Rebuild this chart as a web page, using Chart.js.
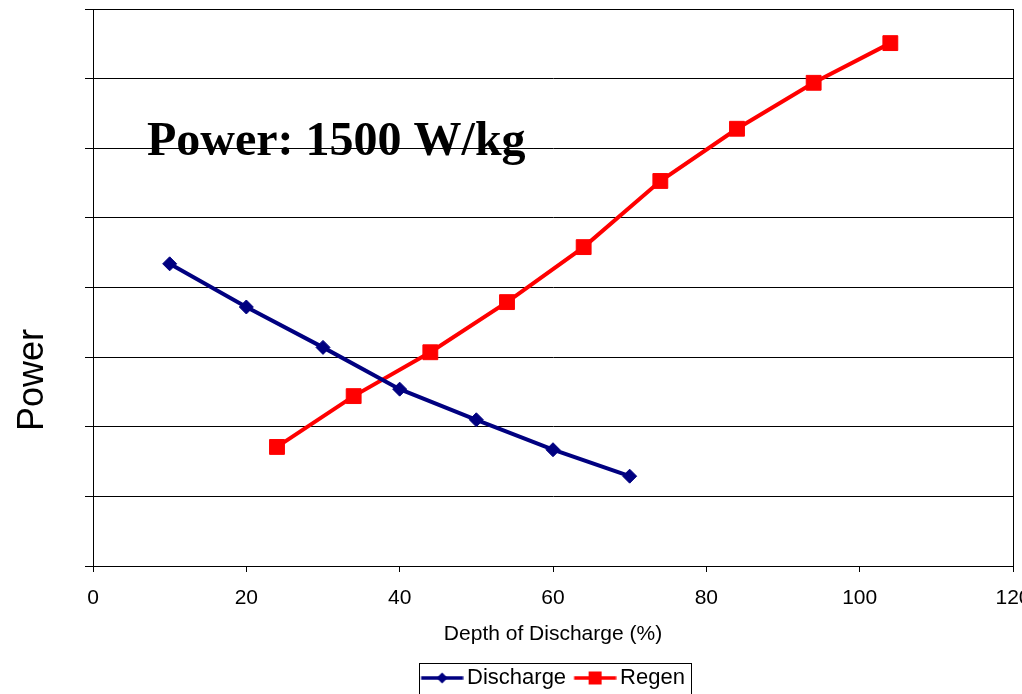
<!DOCTYPE html>
<html>
<head>
<meta charset="utf-8">
<script src="https://cdn.jsdelivr.net/npm/chart.js@4.4.0/dist/chart.umd.min.js"></script>
<style>
  html, body { margin: 0; padding: 0; background: #ffffff; }
  #wrap { width: 1022px; height: 694px; }
</style>
</head>
<body>
<div id="wrap"><canvas id="c" width="1022" height="694"></canvas></div>
<script>
// ---- data ----
const dischargeX = [10, 20, 30, 40, 50, 60, 70];
const dischargeY = [4.34, 3.72, 3.14, 2.54, 2.10, 1.67, 1.29];
const regenX = [24, 34, 44, 54, 64, 74, 84, 94, 104];
const regenY = [1.71, 2.44, 3.07, 3.79, 4.58, 5.53, 6.28, 6.94, 7.51];
const xTicks = [0, 20, 40, 60, 80, 100, 120];
const seriesNames = ['Discharge', 'Regen'];
const xTitle = 'Depth of Discharge (%)';
const yTitle = 'Power';
const annotationText = 'Power: 1500 W/kg';

const NAVY = '#000080';
const RED = '#FF0000';

function toPoints(xs, ys) { return xs.map((x, i) => ({ x: x, y: ys[i] })); }

// legend swatch: line with marker, drawn to an offscreen canvas
function legendSwatch(color, kind) {
  const c = document.createElement('canvas');
  c.width = 50; c.height = 16;
  const g = c.getContext('2d');
  g.strokeStyle = color; g.lineWidth = 3.5;
  g.beginPath(); g.moveTo(7.5, 8); g.lineTo(49.5, 8); g.stroke();
  g.fillStyle = color;
  const cx = 28.5, cy = 8;
  if (kind === 'diamond') {
    g.beginPath();
    g.moveTo(cx, cy - 5.5); g.lineTo(cx + 5.5, cy); g.lineTo(cx, cy + 5.5); g.lineTo(cx - 5.5, cy);
    g.closePath(); g.fill();
  } else {
    g.fillRect(cx - 6.5, cy - 6.5, 13, 13);
  }
  return c;
}
const swatches = [legendSwatch(NAVY, 'diamond'), legendSwatch(RED, 'square')];

const overlayPlugin = {
  id: 'overlay',
  afterDraw(chart) {
    const ctx = chart.ctx;
    const a = chart.chartArea;
    ctx.save();
    // plot border
    ctx.strokeStyle = '#000000';
    ctx.lineWidth = 1;
    ctx.strokeRect(Math.round(a.left) + 0.5, Math.round(a.top) + 0.5,
                   Math.round(a.right - a.left), Math.round(a.bottom - a.top));
    // annotation text
    ctx.fillStyle = '#000000';
    ctx.font = 'bold 48px "Liberation Serif", "Times New Roman", serif';
    ctx.textAlign = 'left';
    ctx.textBaseline = 'alphabetic';
    ctx.fillText(annotationText, 147, 155);
    // y axis title
    ctx.font = '36px "Liberation Sans", Arial, sans-serif';
    ctx.translate(43, 380);
    ctx.rotate(-Math.PI / 2);
    ctx.textAlign = 'center';
    ctx.fillText(yTitle, 0, 0);
    ctx.restore();
    // legend border
    const hb = chart.legend && chart.legend.legendHitBoxes;
    if (hb && hb.length) {
      let l = Infinity, r = -Infinity, t = Infinity, b = -Infinity;
      hb.forEach(h => {
        l = Math.min(l, h.left); r = Math.max(r, h.left + h.width);
        t = Math.min(t, h.top); b = Math.max(b, h.top + h.height);
      });
      ctx.save();
      ctx.strokeStyle = '#000000';
      ctx.lineWidth = 1;
      ctx.strokeRect(Math.round(l - 2) + 0.5, Math.round(t - 4) + 0.5,
                     Math.round(r - l + 8), Math.round(b - t + 10));
      ctx.restore();
    }
  }
};

new Chart(document.getElementById('c'), {
  type: 'line',
  data: {
    datasets: [
      {
        label: seriesNames[0],
        data: toPoints(dischargeX, dischargeY),
        borderColor: NAVY,
        backgroundColor: NAVY,
        borderWidth: 4,
        pointStyle: 'rectRot',
        pointRadius: 7,
        pointBorderWidth: 1,
        pointBackgroundColor: NAVY,
        pointBorderColor: NAVY,
        tension: 0
      },
      {
        label: seriesNames[1],
        data: toPoints(regenX, regenY),
        borderColor: RED,
        backgroundColor: RED,
        borderWidth: 4,
        pointStyle: 'rect',
        pointRadius: 10.5,
        pointBorderWidth: 1,
        pointBackgroundColor: RED,
        pointBorderColor: RED,
        tension: 0
      }
    ]
  },
  options: {
    responsive: false,
    animation: false,
    devicePixelRatio: 1,
    layout: { autoPadding: false, padding: { top: 9, right: 9, left: 0, bottom: -5 } },
    scales: {
      x: {
        type: 'linear',
        min: 0, max: 120,
        afterBuildTicks(s) { s.ticks = xTicks.map(v => ({ value: v })); },
        afterFit(s) { s.height = 93; s.paddingLeft = 0; s.paddingRight = 0; },
        ticks: {
          color: '#000000',
          font: { family: '"Liberation Sans", Arial, sans-serif', size: 21 },
          padding: 14,
          maxRotation: 0,
          autoSkip: false
        },
        grid: { drawOnChartArea: false, drawTicks: true, tickLength: 6, color: '#000000', lineWidth: 1 },
        border: { color: '#000000', width: 1 },
        title: {
          display: true,
          text: xTitle,
          color: '#000000',
          font: { family: '"Liberation Sans", Arial, sans-serif', size: 21 },
          padding: { top: 4, bottom: 12 }
        }
      },
      y: {
        type: 'linear',
        min: 0, max: 8,
        ticks: { stepSize: 1, display: false },
        afterFit(s) { s.width = 93; s.paddingTop = 0; s.paddingBottom = 0; },
        grid: { color: '#000000', lineWidth: 1, drawTicks: true, tickLength: 8 },
        border: { color: '#000000', width: 1 }
      }
    },
    plugins: {
      title: { display: false },
      tooltip: { enabled: false },
      legend: {
        display: true,
        position: 'bottom',
        fullSize: false,
        labels: {
          usePointStyle: true,
          pointStyleWidth: 35,
          padding: 8,
          color: '#000000',
          font: { family: '"Liberation Sans", Arial, sans-serif', size: 22 },
          generateLabels(chart) {
            return chart.data.datasets.map((ds, i) => ({
              text: ds.label,
              datasetIndex: i,
              fillStyle: ds.borderColor,
              strokeStyle: ds.borderColor,
              lineWidth: 0,
              hidden: false,
              pointStyle: swatches[i],
              fontColor: '#000000'
            }));
          }
        }
      }
    }
  },
  plugins: [overlayPlugin]
});
</script>
</body>
</html>
